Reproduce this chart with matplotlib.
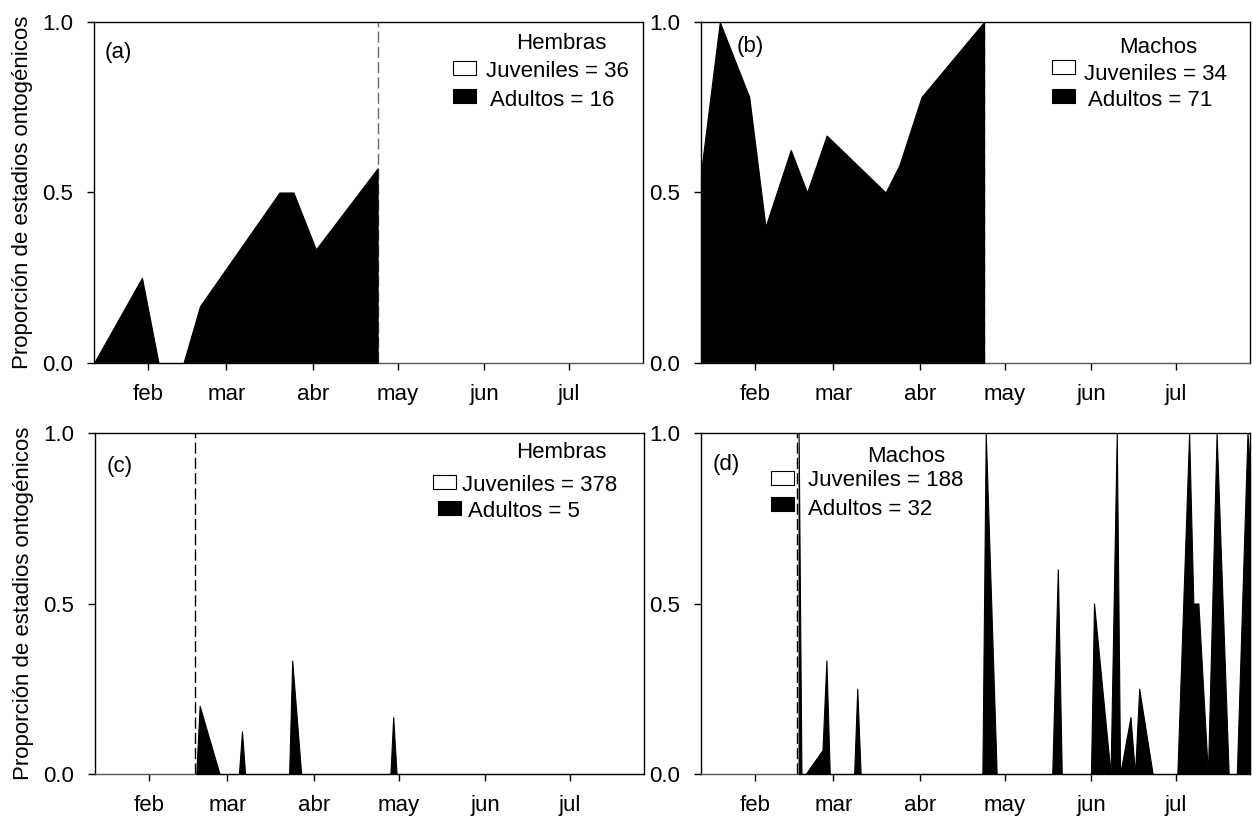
import matplotlib
matplotlib.use("Agg")
import matplotlib.pyplot as plt
from matplotlib.patches import Rectangle

plt.rcParams['font.family'] = ['Liberation Sans', 'DejaVu Sans']
plt.rcParams['font.size'] = 16

# day of year of each sample and proportion of adults
a_day = [12.8, 29.9, 35.8, 44.7, 50.6, 78.9, 83.9, 91.9, 113.9]
a_prop = [0.0, 0.25, 0.0, 0.0, 0.167, 0.5, 0.5, 0.333, 0.571]

b_day = [12.8, 19.5, 30.0, 35.8, 44.8, 50.6, 57.6, 78.6, 83.5, 91.4, 113.7]
b_prop = [0.56, 1.0, 0.78, 0.4, 0.625, 0.5, 0.667, 0.5, 0.58, 0.78, 1.0]

c_day = [48.9, 50.1, 57.2, 64.1, 65.2, 66.3, 82.0, 83.1, 86.3,
         118.1, 119.1, 120.3, 208.5]
c_prop = [0.0, 0.2, 0.0, 0.0, 0.125, 0.0, 0.0, 0.333, 0.0,
          0.0, 0.167, 0.0, 0.0]

d_day = [47.6, 48.6, 50.1, 56.1, 57.5, 58.7, 67.4, 68.5, 69.7,
         113.1, 114.3, 118.2, 138.0, 140.0, 141.4, 151.8, 152.9, 158.8,
         161.0, 162.2, 165.9, 167.5, 169.0, 173.8, 182.6, 186.8, 188.3,
         190.1, 193.5, 196.6, 200.9, 203.8, 207.6, 208.5]
d_prop = [1.0, 0.0, 0.0, 0.07, 0.333, 0.0, 0.0, 0.25, 0.0,
          0.0, 1.0, 0.0, 0.0, 0.6, 0.0, 0.0, 0.5, 0.0,
          1.0, 0.0, 0.167, 0.0, 0.25, 0.0, 0.0, 1.0, 0.5,
          0.5, 0.0, 1.0, 0.0, 0.0, 1.0, 0.9]

month_days = [32, 60, 91, 121, 152, 182]
month_labels = ['feb', 'mar', 'abr', 'may', 'jun', 'jul']

panels = [
    dict(tag='(a)', day=a_day, prop=a_prop, sex='Hembras', juv=36, adu=16,
         vline=113.9, vcolor='#6a6a6a'),
    dict(tag='(b)', day=b_day, prop=b_prop, sex='Machos', juv=34, adu=71,
         vline=113.7, vcolor='#6a6a6a'),
    dict(tag='(c)', day=c_day, prop=c_prop, sex='Hembras', juv=378, adu=5,
         vline=48.3, vcolor='black'),
    dict(tag='(d)', day=d_day, prop=d_prop, sex='Machos', juv=188, adu=32,
         vline=47.1, vcolor='black'),
]

# legend placement (axes fraction): title centre, boxes, texts
legend_pos = [
    dict(title=(0.852, 0.921), jbox=(0.654, 0.845), jtxt=(0.714, 0.839),
         abox=(0.654, 0.762), atxt=(0.721, 0.754), tag=(0.02, 0.912)),
    dict(title=(0.832, 0.909), jbox=(0.639, 0.848), jtxt=(0.698, 0.830),
         abox=(0.639, 0.762), atxt=(0.705, 0.754), tag=(0.064, 0.927)),
    dict(title=(0.849, 0.927), jbox=(0.616, 0.836), jtxt=(0.668, 0.830),
         abox=(0.625, 0.760), atxt=(0.679, 0.754), tag=(0.022, 0.903)),
    dict(title=(0.373, 0.915), jbox=(0.1275, 0.847), jtxt=(0.195, 0.844),
         abox=(0.1275, 0.771), atxt=(0.195, 0.759), tag=(0.022, 0.909)),
]

fig = plt.figure(figsize=(12.52, 8.21), dpi=100)
rects = [
    [94 / 1252, 1 - 363 / 821, 549 / 1252, 341 / 821],
    [701 / 1252, 1 - 363 / 821, 549 / 1252, 341 / 821],
    [95 / 1252, 1 - 774 / 821, 549 / 1252, 341 / 821],
    [701 / 1252, 1 - 774 / 821, 549 / 1252, 341 / 821],
]

for i, (p, lp, r) in enumerate(zip(panels, legend_pos, rects)):
    ax = fig.add_axes(r)
    ax.axvline(p['vline'], color=p['vcolor'], linestyle=(0, (8, 3)),
               linewidth=1.0, zorder=1)
    ax.fill_between(p['day'], 0, p['prop'], facecolor='black',
                    edgecolor='black', linewidth=0.8, zorder=3, clip_on=False)
    ax.set_xlim(12.8, 208.5)
    ax.set_ylim(0, 1)
    ax.set_xticks(month_days)
    ax.set_xticklabels(month_labels)
    ax.set_yticks([0, 0.5, 1.0])
    ax.set_yticklabels(['0.0', '0.5', '1.0'])
    ax.tick_params(axis='x', length=5, width=1, pad=10, labelsize=16)
    ax.tick_params(axis='y', length=5, width=1, pad=10, labelsize=16)
    for s in ax.spines.values():
        s.set_linewidth(1.0)
    ax.spines['bottom'].set_color('#555555')
    ax.spines['bottom'].set_linestyle((0, (1.5, 1)))

    if i % 2 == 0:
        ax.set_ylabel('Proporción de estadios ontogénicos', fontsize=16)
        ax.yaxis.set_label_coords(-0.111, 0.5)

    ax.text(*lp['tag'], p['tag'], transform=ax.transAxes, fontsize=16,
            va='center', ha='left')
    ax.text(*lp['title'], p['sex'], transform=ax.transAxes, fontsize=16,
            ha='center', va='baseline')
    ax.add_patch(Rectangle(lp['jbox'], 0.042, 0.041, transform=ax.transAxes,
                           facecolor='white', edgecolor='black', linewidth=0.8,
                           zorder=5))
    ax.add_patch(Rectangle(lp['abox'], 0.042, 0.041, transform=ax.transAxes,
                           facecolor='black', edgecolor='black', linewidth=0.8,
                           zorder=5))
    ax.text(*lp['jtxt'], 'Juveniles = %d' % p['juv'], transform=ax.transAxes,
            fontsize=16, ha='left', va='baseline')
    ax.text(*lp['atxt'], 'Adultos = %d' % p['adu'], transform=ax.transAxes,
            fontsize=16, ha='left', va='baseline')

fig.savefig('out.png', dpi=100)
